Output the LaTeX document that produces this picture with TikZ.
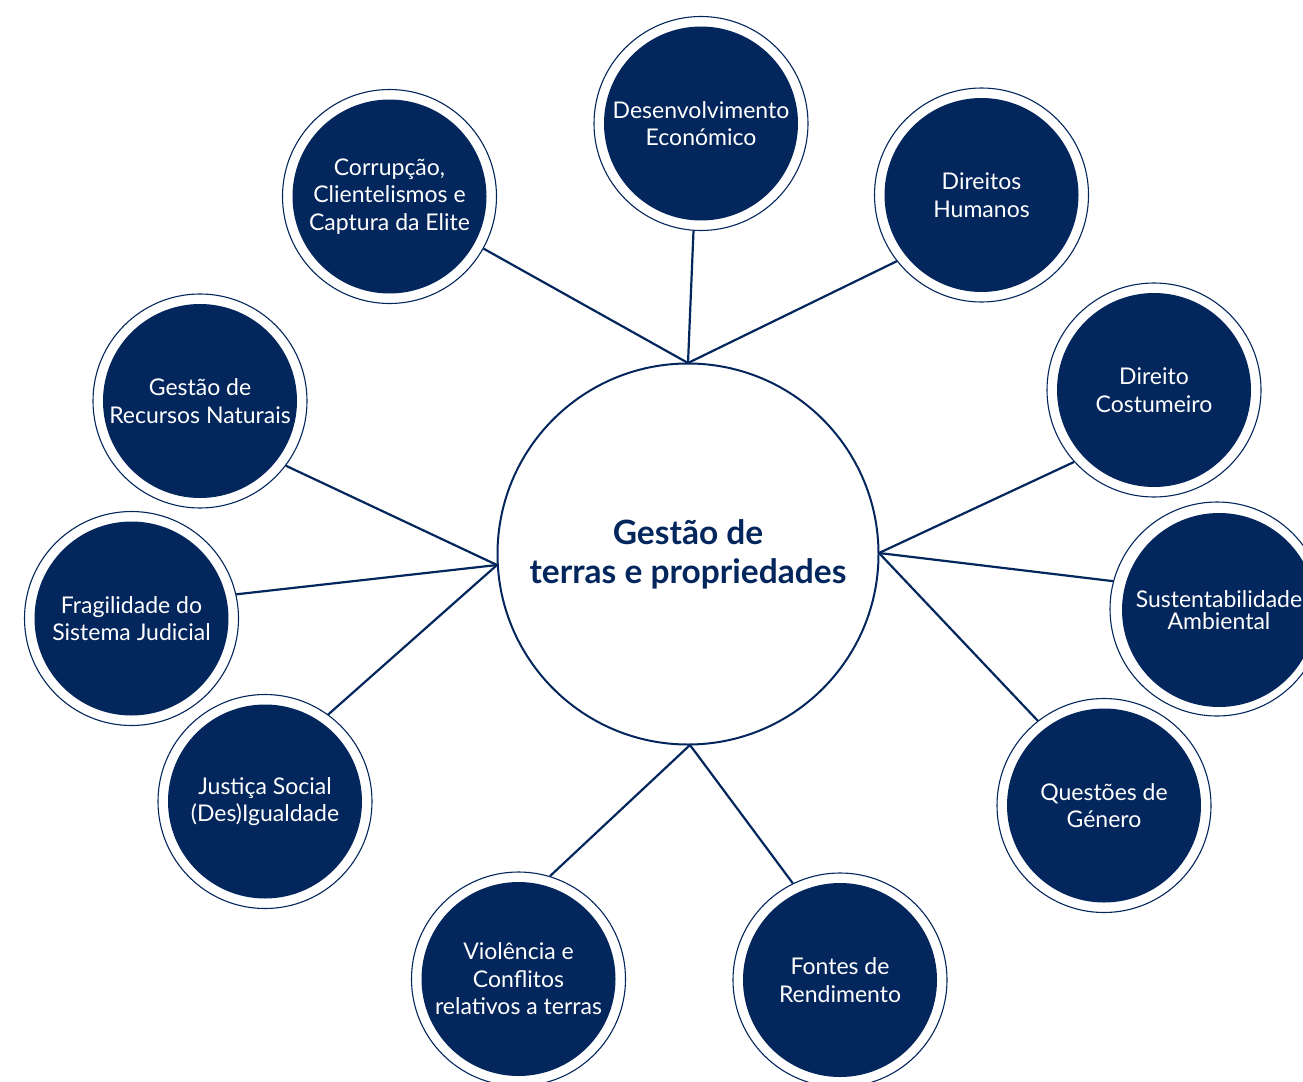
\documentclass[tikz,border=0pt]{standalone}
\usepackage{fontspec}
\setmainfont{Lato}
\definecolor{navy}{HTML}{03275D}
\begin{document}
\begin{tikzpicture}[x=1pt,y=-1pt,
  ring/.style={circle,draw=navy,line width=1.1pt,fill=white,minimum size=214pt,inner sep=0pt},
  disc/.style={circle,fill=navy,minimum size=194pt,inner sep=0pt,text=white,align=center,
    font=\fontsize{23}{27.5}\selectfont},
  hubstyle/.style={circle,draw=navy,line width=2pt,fill=white,minimum size=381pt,inner sep=0pt,
    text=navy,align=center,font=\bfseries\fontsize{33.5}{39}\selectfont},
  link/.style={draw=navy,line width=2.2pt}]
\fill[white] (0,0) rectangle (1303,1081);
\useasboundingbox (0,0) rectangle (1303,1081);

\node[hubstyle] (hub) at (688,554) {Gestão de\\terras e propriedades};
\coordinate (ctop) at (688,363);
\coordinate (cleft) at (497,565);
\coordinate (cright) at (879,553);
\coordinate (cbot) at (690,745);

\node[ring] (s1) at (701,123.5) {};
\node[ring] (s2) at (389.5,196.5) {};
\node[ring] (s3) at (981.5,195) {};
\node[ring] (s4) at (200,401) {};
\node[ring] (s5) at (1154,390) {};
\node[ring] (s6) at (131.5,618.5) {};
\node[ring] (s7) at (1217,609) {};
\node[ring] (s8) at (265,801.5) {};
\node[ring] (s9) at (1104,805.5) {};
\node[ring] (s10) at (518.5,979) {};
\node[ring] (s11) at (840,980) {};

\node[disc] (d1) at (s1) {Desenvolvimento\\Económico};
\node[disc] (d2) at (s2) {Corrupção,\\Clientelismos e\\Captura da Elite};
\node[disc] (d3) at (s3) {Direitos\\Humanos};
\node[disc] (d4) at (s4) {Gestão de\\Recursos Naturais};
\node[disc] (d5) at (s5) {Direito\\Costumeiro};
\node[disc] (d6) at (s6) {Fragilidade do\\Sistema Judicial};
\node[disc,font=\fontsize{23}{22.5}\selectfont] (d7) at (1219,610) {Sustentabilidade\\Ambiental};
\node[disc] (d8) at (s8) {Justiça Social\\(Des)Igualdade};
\node[disc] (d9) at (s9) {Questões de\\Género};
\node[disc] (d10) at (s10) {Violência e\\Conflitos\\relativos a terras};
\node[disc] (d11) at (s11) {Fontes de\\Rendimento};

\draw[link] (ctop) -- (s1.266.8);
\draw[link] (ctop) -- (s2.-29.5);
\draw[link] (ctop) -- (s3.218.4);
\draw[link] (cleft) -- (s4.-37);
\draw[link] (cleft) -- (s6.13.2);
\draw[link] (cleft) -- (s8.54.6);
\draw[link] (cright) -- (s5.222.7);
\draw[link] (cright) -- (s7.165.4);
\draw[link] (cright) -- (s9.128.7);
\draw[link] (cbot) -- (s10.73.5);
\draw[link] (cbot) -- (s11.116.1);
\end{tikzpicture}
\end{document}
